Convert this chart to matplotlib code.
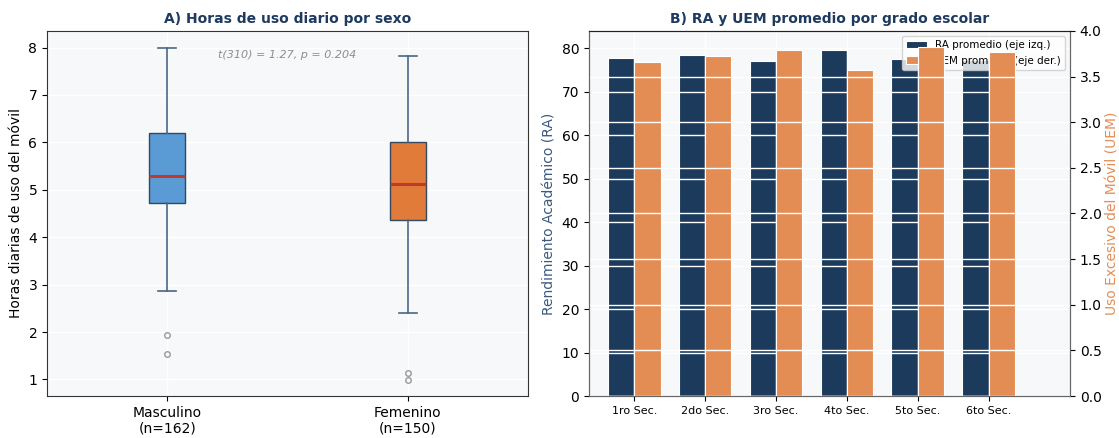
import matplotlib
matplotlib.use("Agg")
import matplotlib.pyplot as plt
import numpy as np

# Panel A: daily phone-use hours by sex (box summary stats)
sexes = ["Masculino", "Femenino"]
n_counts = [162, 150]
whislo = [2.87, 2.40]
q1 = [4.73, 4.36]
med = [5.29, 5.13]
q3 = [6.19, 6.00]
whishi = [8.00, 7.83]
fliers = [[1.93, 1.53], [1.13, 0.99]]
ttest_label = "t(310) = 1.27, p = 0.204"

# Panel B: mean RA and UEM by school grade
grades = ["1ro Sec.", "2do Sec.", "3ro Sec.", "4to Sec.", "5to Sec.", "6to Sec."]
ra_mean = [77.7, 78.5, 77.1, 79.7, 77.5, 77.3]
uem_mean = [3.66, 3.73, 3.79, 3.57, 3.82, 3.77]

NAVY = "#1b3a5c"
ORANGE_BAR = "#e38d55"
BOX_COLORS = ["#5b9bd5", "#e07b39"]
TITLE_C = "#1f3a5f"
FACE = "#f6f8fa"

fig = plt.figure(figsize=(11.19, 4.38), dpi=100)
axA = fig.add_axes([47 / 1119, 42 / 438, 481 / 1119, 365 / 438])
axB = fig.add_axes([589 / 1119, 42 / 438, 481 / 1119, 365 / 438])

# ---- A) boxplot
stats = []
for i in range(2):
    stats.append(dict(med=med[i], q1=q1[i], q3=q3[i], whislo=whislo[i],
                      whishi=whishi[i], fliers=fliers[i]))
axA.set_facecolor(FACE)
bp = axA.bxp(stats, positions=[1, 2], widths=0.15, patch_artist=True,
             boxprops=dict(edgecolor="#34495e", linewidth=1.0),
             whiskerprops=dict(color="#4a6785", linewidth=1.2),
             capprops=dict(color="#4a6785", linewidth=1.2),
             medianprops=dict(color="#c0392b", linewidth=2.2),
             flierprops=dict(marker="o", markersize=4, markerfacecolor="none",
                             markeredgecolor="#999999", markeredgewidth=1.0))
for box, c in zip(bp["boxes"], BOX_COLORS):
    box.set_facecolor(c)
axA.set_xlim(0.5, 2.5)
axA.set_ylim(0.65, 8.35)
axA.set_xticks([1, 2])
axA.set_xticklabels([f"{s}\n(n={n})" for s, n in zip(sexes, n_counts)], fontsize=10)
axA.tick_params(axis="y", labelsize=10)
axA.grid(True, color="white", linewidth=1.0)
axA.set_axisbelow(True)
axA.set_ylabel("Horas diarias de uso del móvil", fontsize=10)
axA.set_title("A) Horas de uso diario por sexo", fontsize=10, fontweight="bold",
              color=TITLE_C, pad=6)
axA.text(0.5, 0.935, ttest_label, transform=axA.transAxes, ha="center",
         va="center", fontsize=8, style="italic", color="#8a8f94")
for sp in axA.spines.values():
    sp.set_color("#333333")
    sp.set_linewidth(0.8)

# ---- B) twin-axis bars
x = np.arange(len(grades))
w = 0.37
axB.set_facecolor(FACE)
axB.bar(x - w / 2, ra_mean, width=w, color=NAVY, edgecolor="white",
        linewidth=0.8, label="RA promedio (eje izq.)")
axB.set_ylim(0, 84)
axB.set_xlim(-0.64, 6.15)
axB.set_xticks(x)
axB.set_xticklabels(grades, fontsize=8)
axB.tick_params(axis="y", labelsize=10)
axB.grid(True, color="white", linewidth=1.0)
axB.set_ylabel("Rendimiento Académico (RA)", fontsize=10, color="#3b5a7f")

ax2 = axB.twinx()
ax2.bar(x + w / 2, uem_mean, width=w, color=ORANGE_BAR, edgecolor="white",
        linewidth=0.8, label="UEM promedio (eje der.)")
ax2.set_ylim(0, 4.0)
ax2.set_yticks(np.arange(0, 4.01, 0.5))
ax2.tick_params(axis="y", labelsize=10)
ax2.grid(True, axis="y", color="white", linewidth=1.0)
ax2.set_ylabel("Uso Excesivo del Móvil (UEM)", fontsize=10, color=ORANGE_BAR,
               labelpad=3)

h1, l1 = axB.get_legend_handles_labels()
h2, l2 = ax2.get_legend_handles_labels()
axB.legend(h1 + h2, l1 + l2, loc="upper right", fontsize=7.5, framealpha=0.8)
axB.set_title("B) RA y UEM promedio por grado escolar", fontsize=10,
              fontweight="bold", color=TITLE_C, pad=6)
for ax in (axB, ax2):
    for name, sp in ax.spines.items():
        sp.set_linewidth(0.8)
        sp.set_color("#222222" if name == "top" else "#666666")

fig.savefig("out.png", dpi=100)
